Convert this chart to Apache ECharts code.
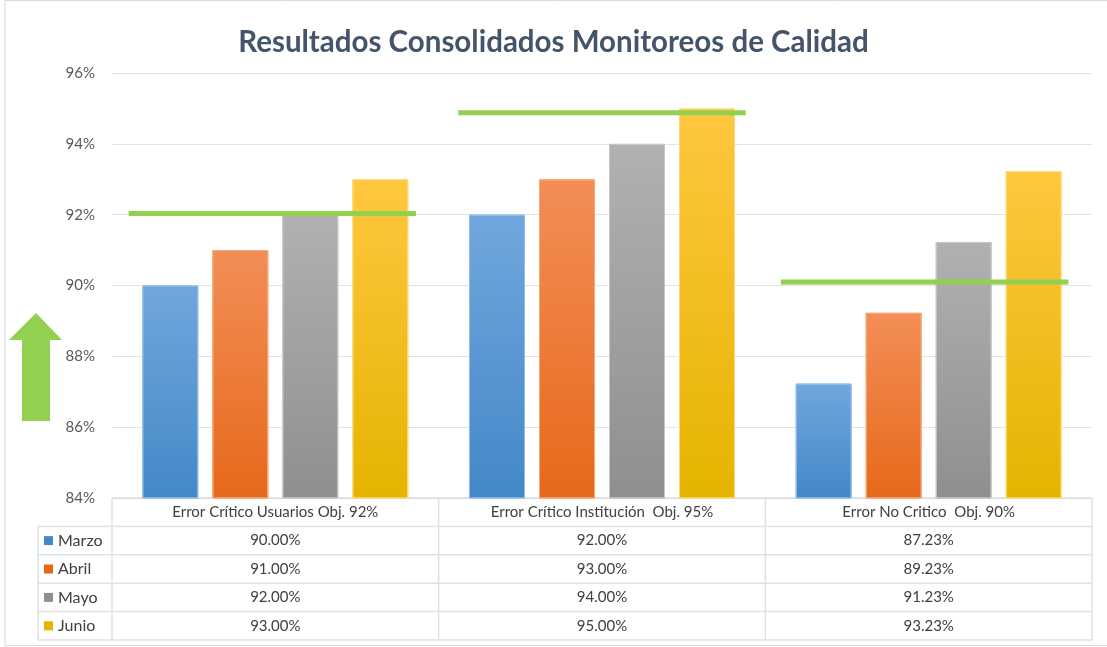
<!DOCTYPE html>
<html>
<head>
<meta charset="utf-8">
<script src="https://cdn.jsdelivr.net/npm/echarts@6/dist/echarts.min.js"></script>
<style>
  html, body { margin: 0; padding: 0; background: #fff; }
  #main { width: 1107px; height: 647px; }
</style>
</head>
<body>
<div id="main"></div>
<script>
// categorias y datos
var categories = ['Error Crítico Usuarios Obj. 92%', 'Error Crítico Institución  Obj. 95%', 'Error No Critico  Obj. 90%'];
var months = ['Marzo', 'Abril', 'Mayo', 'Junio'];
var marzo = [90.00, 92.00, 87.23];
var abril = [91.00, 93.00, 89.23];
var mayo = [92.00, 94.00, 91.23];
var junio = [93.00, 95.00, 93.23];
// lineas verdes de objetivo
var objetivo = [92.03, 94.88, 90.1];
var yTicks = [84, 86, 88, 90, 92, 94, 96];

var seriesValues = [marzo, abril, mayo, junio];
// colores: arriba, abajo, borde
var colores = [
    ['#71a7dd', '#4388c8', '#8fbce6'],
    ['#f38e57', '#e6691a', '#f5a878'],
    ['#b1b1b1', '#8f8f8f', '#c6c6c6'],
    ['#ffc740', '#e5b400', '#ffd877']
];

var chart = echarts.init(document.getElementById('main'));

var series = seriesValues.map(function (vals, k) {
    return {
        name: months[k],
        type: 'bar',
        data: vals,
        barWidth: 56,
        barGap: '25%',
        itemStyle: {
            color: new echarts.graphic.LinearGradient(0, 0, 0, 1, [
                { offset: 0, color: colores[k][0] },
                { offset: 1, color: colores[k][1] }
            ]),
            borderColor: colores[k][2],
            borderWidth: 1
        },
        silent: true
    };
});

// linea de objetivo sobre cada categoria
series.push({
    type: 'custom',
    data: objetivo.map(function (v, i) { return [i, v]; }),
    z: 10,
    renderItem: function (params, api) {
        var p = api.coord([api.value(0), api.value(1)]);
        var bw = api.size([1, 0])[0];
        var off = params.dataIndex === 2 ? -4 : (params.dataIndex === 0 ? -3 : 0);
        return {
            type: 'line',
            shape: { x1: p[0] - bw * 0.44 + off, y1: p[1], x2: p[0] + bw * 0.44 + off, y2: p[1] },
            style: { stroke: '#92d050', lineWidth: 5 }
        };
    }
});

var option = {
    backgroundColor: '#fff',
    animation: false,
    title: {
        text: 'Resultados Consolidados Monitoreos de Calidad',
        left: 'center',
        top: 22,
        textStyle: { fontFamily: 'Lato', fontSize: 29.5, fontWeight: 'bold', color: '#44546a' }
    },
    grid: { left: 112, right: 15, top: 73, bottom: 149 },
    xAxis: {
        type: 'category',
        data: categories,
        axisLine: { lineStyle: { color: '#d9d9d9' } },
        axisTick: { show: false },
        axisLabel: { show: false }
    },
    yAxis: {
        type: 'value',
        min: yTicks[0],
        max: yTicks[yTicks.length - 1],
        interval: 2,
        axisLine: { show: false },
        axisTick: { show: false },
        axisLabel: {
            formatter: '{value}%',
            margin: 17,
            fontFamily: 'Lato',
            fontSize: 15,
            color: '#595959'
        },
        splitLine: { lineStyle: { color: '#e2e2e2' } }
    },
    series: series
};

chart.setOption(option);

// tabla de datos debajo del grafico
var lineCol = '#dde2ea';
var txtCol = '#404040';
var top0 = 498, rowH = 28.4, leftCol = 38, gridL = 112, gridR = 1092;
var g = [];
// borde del grafico
g.push({ type: 'rect', shape: { x: 5, y: 0.5, width: 1120, height: 645 }, style: { fill: 'none', stroke: '#d9d9d9', lineWidth: 1 }, silent: true });
// flecha verde
g.push({
    type: 'polygon',
    shape: { points: [[36, 313], [62, 340], [50, 340], [50, 421], [22, 421], [22, 340], [9, 340]] },
    style: { fill: '#92d050' }
});
// lineas horizontales
g.push({ type: 'line', shape: { x1: gridL, y1: top0, x2: gridR, y2: top0 }, style: { stroke: lineCol, lineWidth: 1.5 } });
for (var r = 1; r <= months.length + 1; r++) {
    var y = top0 + rowH * r;
    g.push({ type: 'line', shape: { x1: leftCol, y1: y, x2: gridR, y2: y }, style: { stroke: lineCol, lineWidth: 1.5 } });
}
// lineas verticales
g.push({ type: 'line', shape: { x1: leftCol, y1: top0 + rowH, x2: leftCol, y2: top0 + rowH * 5 }, style: { stroke: lineCol, lineWidth: 1.5 } });
var bw = (gridR - gridL) / categories.length;
for (var c = 0; c <= categories.length; c++) {
    var x = gridL + bw * c;
    g.push({ type: 'line', shape: { x1: x, y1: top0, x2: x, y2: top0 + rowH * 5 }, style: { stroke: lineCol, lineWidth: 1.5 } });
}
// encabezados y valores
categories.forEach(function (name, i) {
    var cx = chart.convertToPixel({ xAxisIndex: 0 }, i);
    g.push({ type: 'text', x: cx, y: top0 + rowH / 2, style: { text: name, fill: txtCol, font: '15px Lato', align: 'center', verticalAlign: 'middle' } });
    seriesValues.forEach(function (vals, k) {
        g.push({ type: 'text', x: cx, y: top0 + rowH * (k + 1.5), style: { text: vals[i].toFixed(2) + '%', fill: txtCol, font: '15px Lato', align: 'center', verticalAlign: 'middle' } });
    });
});
// leyenda en la tabla
months.forEach(function (m, k) {
    var yc = top0 + rowH * (k + 1.5);
    g.push({ type: 'rect', shape: { x: 44, y: yc - 4.5, width: 9, height: 9 }, style: { fill: colores[k][1] } });
    g.push({ type: 'text', x: 58, y: yc, style: { text: m, fill: txtCol, font: '16px Lato', verticalAlign: 'middle' } });
});

chart.setOption({ graphic: g });
</script>
</body>
</html>
